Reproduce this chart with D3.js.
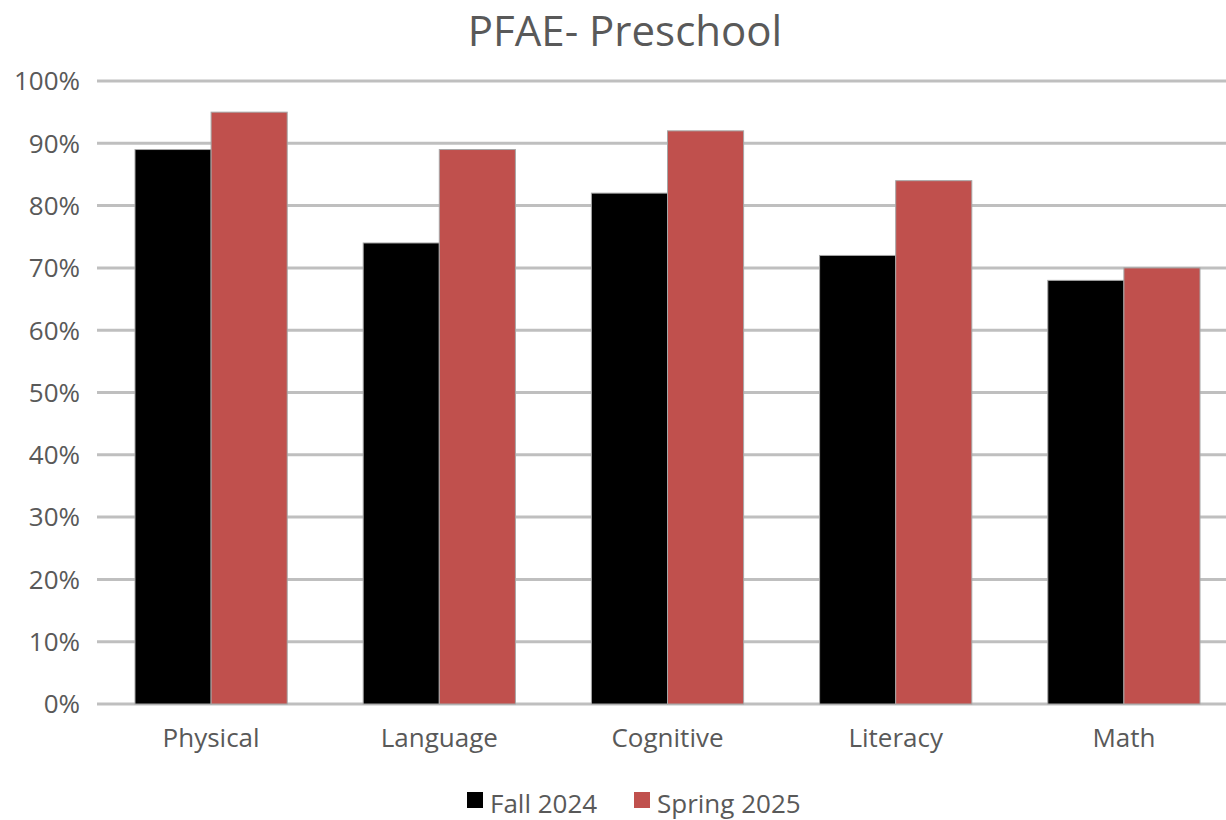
<!DOCTYPE html>
<html>
<head>
<meta charset="utf-8">
<script src="https://cdn.jsdelivr.net/npm/d3@7"></script>
<style>
  body { margin: 0; background: #fff; }
  svg text { font-family: "Open Sans", "Noto Sans", sans-serif; fill: #595959; }
</style>
</head>
<body>
<svg id="chart" width="1226" height="820"></svg>
<script>
const categories = ['Physical', 'Language', 'Cognitive', 'Literacy', 'Math'];
const seriesNames = ['Fall 2024', 'Spring 2025'];
const fall2024 = [89, 74, 82, 72, 68];
const spring2025 = [95, 89, 92, 84, 70];
const yTicks = [0, 10, 20, 30, 40, 50, 60, 70, 80, 90, 100];
const colors = ['#000000', '#c0504d'];

const width = 1226;
const height = 820;
const margin = { top: 81, right: -12, bottom: 116, left: 97 };

const svg = d3.select('#chart');

const rows = categories.map((c, i) => ({ name: c, values: [fall2024[i], spring2025[i]] }));

const x = d3.scaleBand()
  .domain(categories)
  .range([margin.left, width - margin.right])
  .paddingInner(0.333)
  .paddingOuter(0.1665);

const x1 = d3.scaleBand()
  .domain([0, 1])
  .range([0, x.bandwidth()]);

const y = d3.scaleLinear()
  .domain([0, 100])
  .range([height - margin.bottom, margin.top]);

// gridlines
svg.append('g')
  .selectAll('line')
  .data(yTicks)
  .join('line')
  .attr('x1', margin.left)
  .attr('x2', width)
  .attr('y1', d => y(d))
  .attr('y2', d => y(d))
  .attr('stroke', '#bfbfbf')
  .attr('stroke-width', 3);

// y labels
svg.append('g')
  .attr('font-size', 26)
  .selectAll('text')
  .data(yTicks)
  .join('text')
  .attr('x', 80)
  .attr('y', d => y(d))
  .attr('dy', '0.36em')
  .attr('text-anchor', 'end')
  .text(d => d + '%');

// bars
const group = svg.append('g')
  .selectAll('g')
  .data(rows)
  .join('g')
  .attr('transform', d => `translate(${x(d.name)},0)`);

group.selectAll('rect')
  .data(d => d.values)
  .join('rect')
  .attr('x', (d, i) => x1(i))
  .attr('y', d => y(d))
  .attr('width', x1.bandwidth())
  .attr('height', d => y(0) - y(d))
  .attr('fill', (d, i) => colors[i])
  .attr('stroke', '#a6a6a6')
  .attr('stroke-width', 1);

// x labels
svg.append('g')
  .attr('font-size', 26)
  .selectAll('text')
  .data(categories)
  .join('text')
  .attr('x', d => x(d) + x.bandwidth() / 2)
  .attr('y', 747)
  .attr('text-anchor', 'middle')
  .text(d => d);

// title
svg.append('text')
  .attr('x', 625)
  .attr('y', 46)
  .attr('text-anchor', 'middle')
  .attr('font-size', 42)
  .text('PFAE- Preschool');

// legend
const legendX = [467, 634];
const legend = svg.append('g')
  .selectAll('g')
  .data(seriesNames)
  .join('g')
  .attr('transform', (d, i) => `translate(${legendX[i]},792)`);

legend.append('rect')
  .attr('width', 16)
  .attr('height', 16)
  .attr('fill', (d, i) => colors[i]);

legend.append('text')
  .attr('x', 23)
  .attr('y', 21)
  .attr('font-size', 26)
  .text(d => d);
</script>
</body>
</html>
